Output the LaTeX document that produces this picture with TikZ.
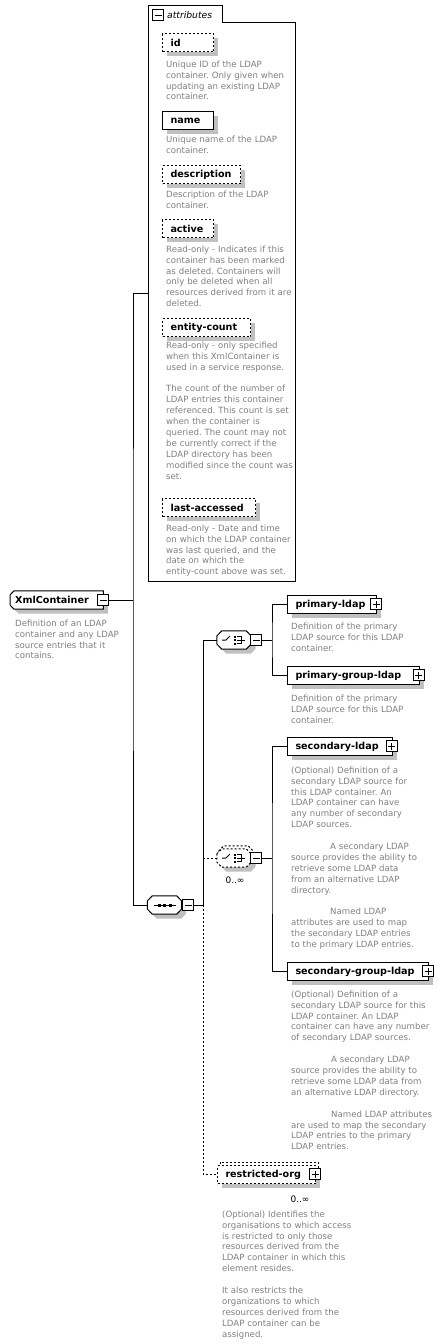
\documentclass[tikz,border=0pt]{standalone}
\usepackage{fontspec}
\setmainfont{DejaVu Sans}
\usetikzlibrary{shadows}
\frenchspacing
\definecolor{desc}{RGB}{128,128,128}
\definecolor{shad}{RGB}{192,192,192}
\pgfdeclarelayer{back}
\pgfdeclarelayer{bg}
\pgfsetlayers{back,bg,main}
% octagon (compositor) outline around a node: #1 node, #2 options, #3/#4 shift
\newcommand\xsoct[4]{%
  \path[draw,line width=1pt,fill=white,#2]
    ([shift={(#3,#4)},yshift=4pt]#1.west) -- ([shift={(#3,#4)},xshift=5pt]#1.north west)
    -- ([shift={(#3,#4)},xshift=-5pt]#1.north east) -- ([shift={(#3,#4)},yshift=4pt]#1.east)
    -- ([shift={(#3,#4)},yshift=-4pt]#1.east) -- ([shift={(#3,#4)},xshift=-5pt]#1.south east)
    -- ([shift={(#3,#4)},xshift=5pt]#1.south west) -- ([shift={(#3,#4)},yshift=-4pt]#1.west) -- cycle;}
\newcommand\xschoiceicon[1]{%
  \draw[line width=1pt] ([xshift=-12pt]#1.center) -- ([xshift=-8pt]#1.center) -- ([xshift=-4pt,yshift=4pt]#1.center);
  \foreach \yy in {3.5,0,-3.5}{\fill ([xshift=-0.5pt,yshift=\yy pt+1pt]#1.center) rectangle ([xshift=1.5pt,yshift=\yy pt-1pt]#1.center);}
  \draw[line width=1pt] ([xshift=3pt,yshift=3.5pt]#1.center) -- ([xshift=7pt,yshift=3.5pt]#1.center) -- ([xshift=7pt,yshift=-3.5pt]#1.center) -- ([xshift=3pt,yshift=-3.5pt]#1.center);
  \draw[line width=1pt] ([xshift=3pt]#1.center) -- ([xshift=11pt]#1.center);}
\newcommand\xsseqicon[1]{%
  \draw[line width=1pt] ([xshift=-11pt]#1.center) -- ([xshift=11pt]#1.center);
  \foreach \xx in {-5.5,0,5.5}{\fill ([xshift=\xx pt-1.5pt,yshift=1.5pt]#1.center) rectangle ([xshift=\xx pt+1.5pt,yshift=-1.5pt]#1.center);}}
\begin{document}
\begin{tikzpicture}[x=1pt,y=-1pt,
  conn/.style={line width=1pt},
  dconn/.style={line width=1pt,dash pattern=on 2pt off 2pt},
  opt/.style={dash pattern=on 2pt off 2pt},
  shadowed/.style={drop shadow={shadow xshift=4.5pt,shadow yshift=-4.5pt,opacity=1,fill=shad}},
  elem/.style={draw,line width=1pt,fill=white,shadowed,anchor=north west,inner xsep=8pt,inner ysep=0pt,minimum height=18pt,font=\fontsize{9.6}{11}\selectfont\bfseries,align=left},
  descr/.style={anchor=north west,inner sep=0pt,text width=150pt,align=left,font=\fontsize{8.6}{10.9}\selectfont\frenchspacing,text=desc},
  pmbase/.style={draw,fill=white,minimum size=11pt,inner sep=0pt,line width=1pt},
  pmminus/.style={pmbase,path picture={\draw[line width=1pt] ([xshift=2pt]path picture bounding box.west) -- ([xshift=-2pt]path picture bounding box.east);}},
  pmplus/.style={pmbase,path picture={\draw[line width=1pt] ([xshift=2pt]path picture bounding box.west) -- ([xshift=-2pt]path picture bounding box.east) ([yshift=2pt]path picture bounding box.south) -- ([yshift=-2pt]path picture bounding box.north);}},
  comp/.style={minimum width=34pt,minimum height=18pt,inner sep=0pt},
  mult/.style={font=\fontsize{9}{10}\selectfont,inner sep=0pt}
]
\begin{pgfonlayer}{back}
\fill[white] (0,0) rectangle (443,1344);
\end{pgfonlayer}
\useasboundingbox (0,0) rectangle (443,1344);

% ---------- root element ----------
\node[anchor=west,minimum height=18pt,inner xsep=5pt,inner ysep=0pt,text width=83pt,align=left,font=\fontsize{9.6}{11}\selectfont\bfseries] (xml) at (10,600) {XmlContainer};
\begin{pgfonlayer}{bg}
\path[draw,line width=1pt,fill=white,shadowed] ([yshift=5pt]xml.west) -- ([xshift=4pt]xml.north west) -- (xml.north east) -- (xml.south east) -- ([xshift=4pt]xml.south west) -- ([yshift=-5pt]xml.west) -- cycle;
\end{pgfonlayer}
\node[pmminus] (xmlm) at (103,600) {};
\node[descr] (xmld) at (15,618) {\rule{0pt}{8pt}Definition of an LDAP\\container and any LDAP\\source entries that it\\contains.};

% ---------- attributes ----------
\draw[conn] (148,5) -- (222,5) -- (222,22) -- (295,22) -- (295,581) -- (148,581) -- cycle;
\coordinate (attin) at (148,293);
\node[pmminus] (attm) at (158,15) {};
\node[anchor=west,inner sep=0pt,font=\fontsize{9.2}{10}\selectfont\itshape] (attl) at (167,15) {attributes};

\node[elem,opt,text width=35pt] (aid) at (162,33) {id};
\node[descr] (aidd) at (166,59) {\rule{0pt}{8pt}Unique ID of the LDAP\\container. Only given when\\updating an existing LDAP\\container.};
\node[elem,text width=35pt] (aname) at (162,111) {name};
\node[descr] (anamed) at (166,134) {\rule{0pt}{8pt}Unique name of the LDAP\\container.};
\node[elem,opt,text width=62pt] (adesc) at (162,165) {description};
\node[descr] (adescd) at (166,189) {\rule{0pt}{8pt}Description of the LDAP\\container.};
\node[elem,opt,text width=35pt] (aact) at (162,219) {active};
\node[descr] (aactd) at (166,244) {\rule{0pt}{8pt}Read-only - Indicates if this\\container has been marked\\as deleted. Containers will\\only be deleted when all\\resources derived from it are\\deleted.};
\node[elem,opt,text width=72pt] (acnt) at (162,318) {entity-count};
\node[descr] (acntd) at (166,340) {\rule{0pt}{8pt}Read-only - only specified\\when this XmlContainer is\\used in a service response.\\[10.9pt]The count of the number of\\LDAP entries this container\\referenced. This count is set\\when the container is\\queried. The count may not\\be currently correct if the\\LDAP directory has been\\modified since the count was\\set.};
\node[elem,opt,text width=77pt] (alast) at (162,498) {last-accessed};
\node[descr] (alastd) at (166,523) {\rule{0pt}{8pt}Read-only - Date and time\\on which the LDAP container\\was last queried, and the\\date on which the\\entity-count above was set.};

% ---------- compositors ----------
\node[comp] (seq) at (164.5,905) {};
\node[comp] (ch1) at (234,640) {};
\node[comp] (ch2) at (234,858) {};
\begin{pgfonlayer}{bg}
\xsoct{seq}{shadowed}{0pt}{0pt}
\xsoct{ch1}{shadowed}{0pt}{0pt}
\xsoct{ch2}{opt}{2pt}{3pt}
\xsoct{ch2}{opt,shadowed}{0pt}{0pt}
\end{pgfonlayer}
\xsseqicon{seq}
\xschoiceicon{ch1}
\xschoiceicon{ch2}
\node[mult] (ch2mult) at (235,880) {0..∞};

% ---------- child elements ----------
\node[elem,text width=73pt] (p1) at (287,595) {primary-ldap};
\node[descr] (p1d) at (291,621) {\rule{0pt}{8pt}Definition of the primary\\LDAP source for this LDAP\\container.};
\node[elem,text width=115.5pt] (p2) at (287,666) {primary-group-ldap};
\node[descr] (p2d) at (291,693) {\rule{0pt}{8pt}Definition of the primary\\LDAP source for this LDAP\\container.};
\node[elem,text width=88.5pt] (s1) at (287,737) {secondary-ldap};
\node[descr] (s1d) at (291,765) {\rule{0pt}{8pt}(Optional) Definition of a\\secondary LDAP source for\\this LDAP container. An\\LDAP container can have\\any number of secondary\\LDAP sources.\\[10.9pt]\hspace*{39pt}A secondary LDAP\\source provides the ability to\\retrieve some LDAP data\\from an alternative LDAP\\directory.\\[10.9pt]\hspace*{39pt}Named LDAP\\attributes are used to map\\the secondary LDAP entries\\to the primary LDAP entries.};
\node[elem,text width=125pt] (s2) at (287,962) {secondary-group-ldap};
\node[descr] (s2d) at (291,989) {\rule{0pt}{8pt}(Optional) Definition of a\\secondary LDAP source for this\\LDAP container. An LDAP\\container can have any number\\of secondary LDAP sources.\\[10.9pt]\hspace*{40pt}A secondary LDAP\\source provides the ability to\\retrieve some LDAP data from\\an alternative LDAP directory.\\[10.9pt]\hspace*{40pt}Named LDAP attributes\\are used to map the secondary\\LDAP entries to the primary\\LDAP entries.};
\draw[line width=1pt,opt,fill=white] (220,1162) rectangle (318,1180);
\node[elem,opt,text width=82pt] (ro) at (217,1165) {restricted-org};
\node[mult] (romult) at (300,1199) {0..∞};
\node[descr] (rod) at (222,1209) {\rule{0pt}{8pt}(Optional) Identifies the\\organisations to which access\\is restricted to only those\\resources derived from the\\LDAP container in which this\\element resides.\\[10.9pt]It also restricts the\\organizations to which\\resources derived from the\\LDAP container can be\\assigned.};

% ---------- connectors ----------
\coordinate (j1) at (133,600);
\coordinate (j2) at (203,905);
\coordinate (j3) at (272,640);
\coordinate (j4) at (272,858);
\draw[conn] (xmlm.east) -- (j1);
\draw[conn] (attin) -| (j1) |- (seq.west);
\draw[dconn] (j2) |- (ro.west);
\draw[conn] (j2) |- (ch1.west);
\draw[dconn] (ch2.west -| j2) -- (ch2.west);
\draw[conn] (p1.west) -| (j3) |- (p2.west);
\draw[conn] (s1.west) -| (j4) |- (s2.west);

% ---------- +/- boxes ----------
\node[pmminus] (seqm) at (188,905) {};
\node[pmminus] (ch1m) at (256,640) {};
\node[pmminus] (ch2m) at (256,858) {};
\draw[conn] (seqm.east) -- (j2);
\draw[conn] (ch1m.east) -- (j3);
\draw[conn] (ch2m.east) -- (j4);
\node[pmplus] (p1p) at (376,604) {};
\node[pmplus] (p2p) at (418.5,675) {};
\node[pmplus] (s1p) at (391.5,746) {};
\node[pmplus] (s2p) at (428,971) {};
\node[pmplus] (rop) at (315,1174) {};
\end{tikzpicture}
\end{document}
